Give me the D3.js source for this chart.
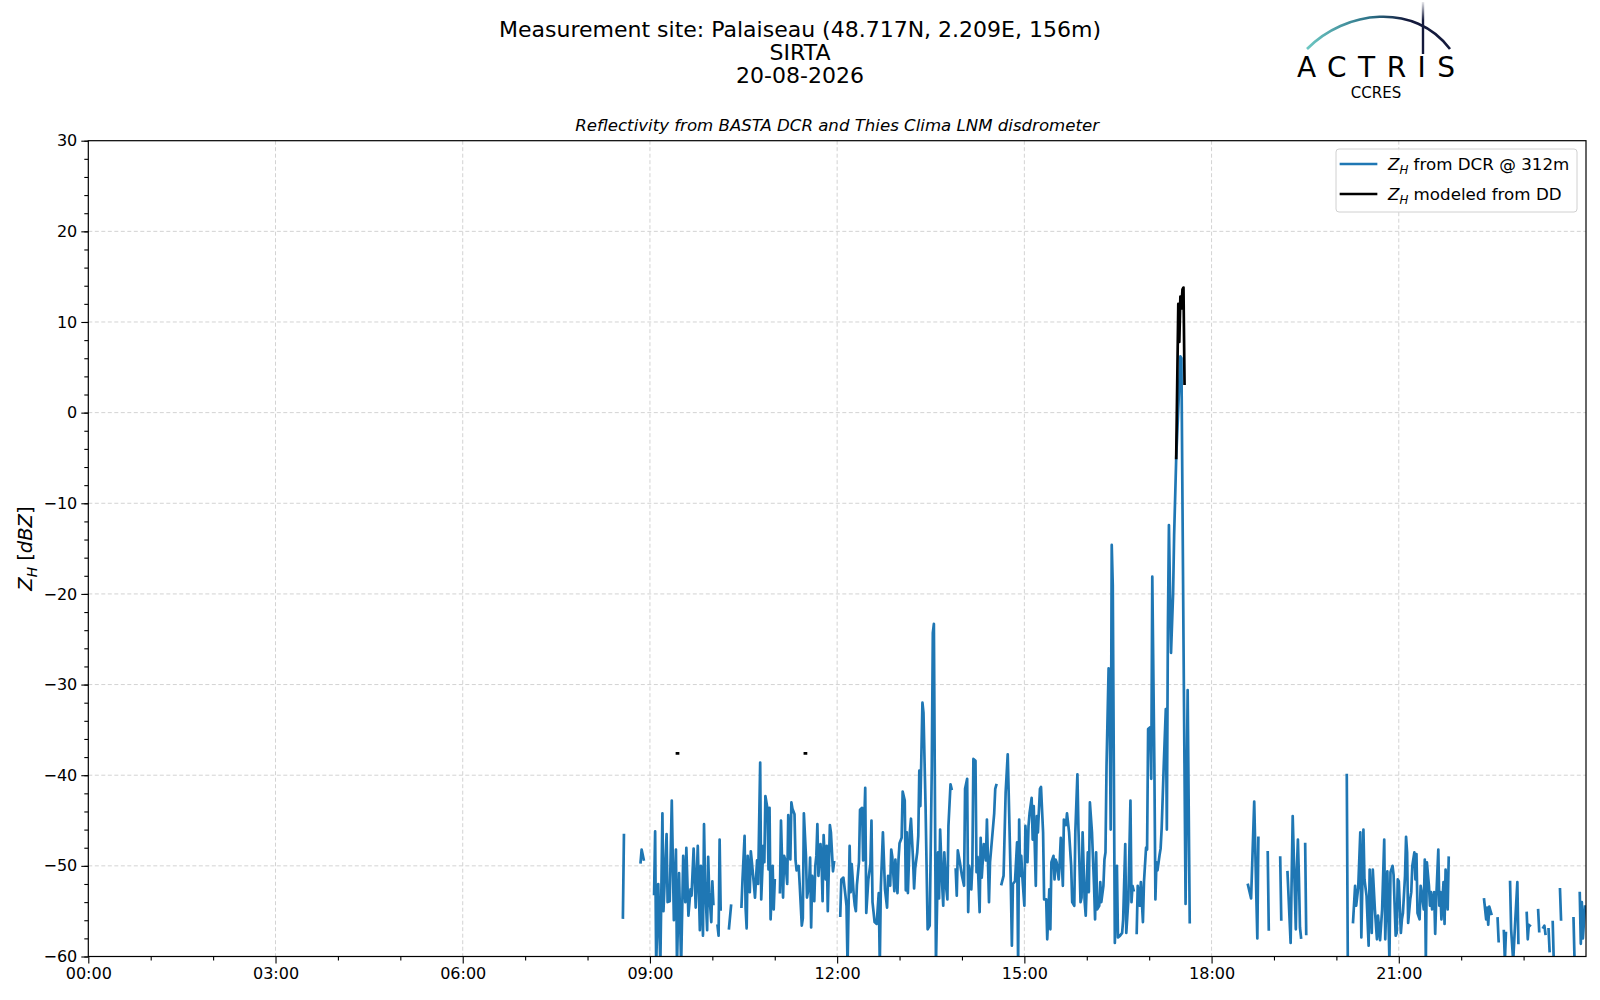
<!DOCTYPE html>
<html>
<head>
<meta charset="utf-8">
<script src="https://cdn.jsdelivr.net/npm/d3@7"></script>
<style>
body { margin: 0; background: #fff; }
svg text { font-family: "DejaVu Sans", sans-serif; fill: #000; }
</style>
</head>
<body>
<script>
// Reflectivity at 312 m from the BASTA cloud radar, [time, dBZ], null = gap
var dcrZh = [
  ["08:34",-55.7],["08:35",-46.6],["08:40",null],
  ["08:51",-49.6],["08:52",-48.2],["08:54",-49.3],["08:58",null],
  ["09:04",-53.1],["09:05",-46.2],["09:06",-61],["09:08",-52.0],["09:10",-61],["09:12",-44.2],["09:13",-55.0],["09:16",-46.5],["09:17",-54.0],["09:19",-53.9],["09:21",-42.8],["09:23",-56.0],["09:25",-48.2],["09:26",-61],["09:28",-50.8],["09:30",-61],["09:32",-48.9],["09:34",-54.0],["09:35",-48.0],["09:37",-55.5],["09:39",-52.6],["09:40",-53.3],["09:42",-48.1],["09:44",-54.6],["09:46",-47.8],["09:48",-57.1],["09:49",-50.0],["09:51",-57.7],["09:52",-45.4],["09:53",-51.8],["09:55",-57.1],["09:56",-49.0],["09:57",-52.9],["09:59",-56.2],["10:00",-51.7],["10:01",-54.2],["10:03",null],
  ["10:05",-56.6],["10:06",-57.7],["10:07",-47.1],["10:08",-54.8],["10:10",null],
  ["10:16",-56.9],["10:18",-54.4],["10:20",null],
  ["10:28",-54.5],["10:29",-51.5],["10:31",-46.7],["10:32",-54.7],["10:33",-56.9],["10:34",-48.9],["10:36",-52.9],["10:37",-48.4],["10:38",-49.6],["10:40",-52.1],["10:41",-53.5],["10:43",-49.4],["10:44",-52.0],["10:46",-38.6],["10:47",-53.7],["10:49",-47.8],["10:50",-49.6],["10:51",-42.3],["10:53",-43.7],["10:54",-50.4],["10:55",-43.6],["10:56",-55.9],["10:58",-50.0],["10:59",-54.8],["11:00",-51.6],["11:02",null],
  ["11:05",-52.9],["11:06",-45.0],["11:08",-53.5],["11:09",-48.9],["11:10",-49.3],["11:12",-52.0],["11:13",-44.4],["11:15",-49.3],["11:16",-43.0],["11:17",-43.7],["11:19",-44.3],["11:20",-49.4],["11:21",-50.5],["11:23",-50.0],["11:24",-52.1],["11:26",-56.6],["11:27",-55.8],["11:28",-44.2],["11:30",-48.9],["11:31",-53.5],["11:33",-52.1],["11:34",-49.1],["11:35",-56.8],["11:36",-51.1],["11:38",-53.9],["11:39",-50.0],["11:40",-48.9],["11:41",-45.4],["11:42",-51.1],["11:44",-47.6],["11:45",-49.6],["11:46",-53.9],["11:47",-46.6],["11:49",-51.5],["11:50",-47.8],["11:51",-55.0],["11:53",-45.5],["11:54",-46.3],["11:56",-50.6],["11:57",-49.6],["11:59",null],
  ["12:03",-55.5],["12:04",-51.5],["12:06",-51.3],["12:08",-53.3],["12:09",-54.4],["12:10",-61],["12:12",-47.8],["12:13",-52.9],["12:14",-49.8],["12:16",-53.3],["12:17",-54.4],["12:18",-55.0],["12:19",-52.1],["12:21",-49.6],["12:22",-43.8],["12:24",-43.6],["12:25",-49.4],["12:27",-41.4],["12:28",-55.2],["12:30",-51.5],["12:32",-49.8],["12:33",-45.0],["12:34",-54.0],["12:36",-56.2],["12:38",-56.4],["12:40",-53.0],["12:41",-61],["12:42",-52.4],["12:44",-46.3],["12:46",-52.6],["12:48",-54.6],["12:49",-51.1],["12:51",-52.2],["12:52",-48.2],["12:53",-49.0],["12:55",-52.8],["12:56",-49.3],["12:58",-53.0],["12:59",-49.3],
  ["13:00",-47.5],["13:02",-46.9],["13:03",-41.8],["13:05",-42.8],["13:06",-52.7],["13:07",-46.3],["13:08",-53.0],["13:10",-46.1],["13:11",-44.8],["13:13",-49.4],["13:14",-52.5],["13:15",-50.3],["13:17",-48.5],["13:18",-46.7],["13:19",-39.5],["13:20",-43.4],["13:22",-32.0],["13:23",-33.1],["13:25",-43.4],["13:27",-57.0],["13:29",-56.6],["13:31",-39.0],["13:32",-24.3],["13:33",-23.3],["13:35",-61],["13:37",-48.5],["13:38",-53.6],["13:39",-46.0],["13:41",-52.2],["13:42",-54.4],["13:43",-48.5],["13:45",-52.6],["13:46",-53.7],["13:47",-45.6],["13:49",-41.0],["13:50",-41.5],["13:52",null],
  ["13:54",-50.4],["13:55",-53.3],["13:56",-48.3],["13:58",-49.6],["14:00",-51.1],["14:02",-52.2],["14:03",-41.5],["14:05",-40.4],["14:06",-55.1],["14:07",-50.0],["14:09",-52.6],["14:10",-50.0],["14:11",-38.2],["14:13",-38.4],["14:14",-50.7],["14:15",-49.0],["14:17",-55.1],["14:18",-46.9],["14:19",-51.3],["14:21",-47.6],["14:22",-48.2],["14:23",-49.4],["14:24",-44.9],["14:26",-54.0],["14:27",-49.6],["14:29",-46.9],["14:31",-44.2],["14:32",-41.5],["14:33",-41.1],["14:35",null],
  ["14:38",-52.0],["14:40",-51.1],["14:42",-41.9],["14:44",-37.7],["14:45",-42.3],["14:47",-52.2],["14:48",-58.8],["14:49",-52.0],["14:51",-51.7],["14:53",-47.4],["14:54",-61],["14:55",-44.9],["14:56",-51.1],["14:57",-48.9],["14:58",-51.1],["15:00",-54.4],["15:01",-45.6],["15:03",-49.6],["15:04",-45.6],["15:05",-44.2],["15:07",-42.5],["15:08",-47.1],["15:09",-43.4],["15:11",-52.2],["15:12",-44.5],["15:13",-46.3],["15:15",-41.5],["15:16",-41.3],["15:18",-46.3],["15:19",-53.7],["15:21",-53.7],["15:22",-58.1],["15:24",-52.6],["15:25",-57.0],["15:26",-49.6],["15:28",-48.9],["15:29",-51.5],["15:30",-49.3],["15:31",-49.6],["15:33",-51.5],["15:34",-49.6],["15:35",-46.9],["15:37",-52.2],["15:38",-44.9],["15:40",-45.5],["15:41",-44.2],["15:43",-46.3],["15:45",-50.0],["15:46",-54.0],["15:48",-54.4],["15:49",-46.3],["15:51",-39.9],["15:52",-45.9],["15:54",-54.0],["15:55",-53.5],["15:56",-46.3],["15:58",-54.0],["15:59",-55.5],
  ["16:01",-48.5],["16:02",-52.9],["16:03",-43.0],["16:05",-46.3],["16:07",-52.2],["16:08",-55.9],["16:09",-48.5],["16:10",-54.8],["16:12",-54.4],["16:13",-51.8],["16:14",-54.0],["16:16",-52.2],["16:17",-49.3],["16:18",-48.5],["16:19",-39.0],["16:21",-28.2],["16:22",-32.6],["16:23",-46.0],["16:24",-14.6],["16:25",-19.0],["16:27",-58.5],["16:29",-50.0],["16:30",-57.9],["16:32",-57.7],["16:34",-57.4],["16:35",-55.9],["16:37",-47.6],["16:38",-57.4],["16:40",-53.7],["16:42",-42.8],["16:43",-54.0],["16:44",-52.2],["16:45",-52.7],["16:47",null],
  ["16:48",-57.4],["16:49",-52.2],["16:51",-54.4],["16:52",-51.8],["16:54",-56.2],["16:55",-51.8],["16:57",-48.0],["16:58",-48.2],["16:59",-34.9],["17:01",-34.7],["17:02",-40.4],["17:03",-18.1],["17:05",-39.0],["17:06",-53.7],["17:07",-49.6],["17:08",-50.5],["17:10",-48.8],["17:11",-48.1],["17:12",-45.9],["17:14",-39.0],["17:16",-32.7],["17:17",-46.0],["17:18",-23.9],["17:19",-12.4],["17:21",-26.5],["17:23",-20.0],["17:24",-13.5],["17:26",-5.0],["17:28",0.5],["17:30",6.2],["17:31",6.0],["17:33",-25.0],["17:35",-54.2],["17:37",-30.6],["17:39",-56.2],["17:41",null],
  ["18:35",-52.1],["18:38",-53.6],["18:41",-42.9],["18:43",-53.2],["18:44",-58.0],["18:45",-46.9],["18:47",null],
  ["18:54",-48.5],["18:55",-57.0],["18:57",null],
  ["19:06",-49.1],["19:07",-55.9],["19:09",null],
  ["19:13",-50.7],["19:16",-58.5],["19:18",-44.5],["19:21",-57.0],["19:22",-50.4],["19:23",-47.1],["19:24",-51.3],["19:25",-56.8],["19:26",-57.9],["19:28",null],
  ["19:30",-47.6],["19:31",-57.5],["19:33",null],
  ["20:10",-40.0],["20:11",-61],["20:13",null],
  ["20:16",-56.2],["20:18",-52.2],["20:19",-54.4],["20:21",-52.4],["20:23",-46.3],["20:24",-57.9],["20:26",-46.0],["20:27",-51.5],["20:29",-53.3],["20:31",-58.8],["20:32",-50.4],["20:34",-57.4],["20:35",-50.4],["20:37",-54.8],["20:39",-58.1],["20:40",-55.5],["20:42",-58.2],["20:44",-54.8],["20:46",-47.1],["20:47",-58.1],["20:49",-50.6],["20:51",-60.5],["20:52",-50.7],["20:54",-50.0],["20:55",-51.0],["20:57",-57.7],["20:58",-57.4],["20:59",-51.5],
  ["21:00",-51.7],["21:02",-57.4],["21:03",-55.9],["21:04",-55.2],["21:06",-51.1],["21:07",-46.8],["21:08",-48.5],["21:09",-56.3],["21:11",-53.7],["21:12",-52.9],["21:13",-50.0],["21:15",-48.5],["21:16",-51.5],["21:17",-48.7],["21:18",-55.2],["21:20",-55.9],["21:21",-52.2],["21:22",-52.9],["21:24",-54.8],["21:25",-49.3],["21:26",-60.5],["21:27",-49.6],["21:29",-52.2],["21:30",-54.4],["21:31",-52.9],["21:32",-54.8],["21:34",-52.9],["21:35",-57.5],["21:36",-53.7],["21:38",-48.2],["21:39",-54.4],["21:40",-52.9],["21:41",-55.9],["21:43",-51.8],["21:44",-56.4],["21:45",-50.4],["21:47",-54.8],["21:48",-49.1],["21:50",null],
  ["22:22",-53.7],["22:24",-55.9],["22:25",-54.6],["22:26",-56.5],["22:27",-54.5],["22:29",-55.3],["22:31",null],
  ["22:35",-55.8],["22:36",-58.3],["22:37",null],
  ["22:41",-57.2],["22:42",-60.5],["22:43",-57.4],["22:44",null],
  ["22:47",-51.8],["22:48",-57.0],["22:50",-60.5],["22:52",-56.0],["22:54",-51.8],["22:55",-58.5],["22:57",null],
  ["23:03",-55.2],["23:04",-58.1],["23:05",-56.5],["23:06",-56.6],["23:07",null],
  ["23:14",-54.9],["23:15",-57.2],["23:16",null],
  ["23:19",-56.8],["23:20",-56.6],["23:21",-57.5],["23:22",null],
  ["23:24",-57.0],["23:25",-59.4],["23:27",null],
  ["23:28",-56.2],["23:29",-60.5],["23:30",null],
  ["23:35",-52.6],["23:36",-55.9],["23:37",null],
  ["23:48",-55.8],["23:49",-60.5],["23:50",null],
  ["23:54",-53.0],["23:55",-58.6],["23:56",-54.0],["23:57",-58.0],["23:59",-54.5]
];

// Reflectivity modeled from the disdrometer drop size distribution
var ddZh = [
  ["09:26",-37.6],["09:27",-37.6],["09:28",null],
  ["11:29",-37.6],["11:30",-37.6],["11:31",null],
  ["17:26",-5.0],["17:28",12.0],["17:29",7.8],["17:30",12.8],["17:31",11.5],["17:32",13.6],["17:33",13.8],["17:34",3.2]
];

var hourTicks = ["00:00","03:00","06:00","09:00","12:00","15:00","18:00","21:00"];
var zTicks = [-60, -50, -40, -30, -20, -10, 0, 10, 20, 30];
var titleLines = ["Measurement site: Palaiseau (48.717N, 2.209E, 156m)", "SIRTA", "20-08-2026"];
var day = "2026-08-20";

var margin = { top: 140.7, left: 88.3 };
var width = 1497.7;
var height = 815.8;

var svg = d3.select("body").append("svg")
    .attr("width", 1600)
    .attr("height", 1000);

var parseTime = d3.timeParse("%Y-%m-%d %H:%M");
function t(s) { return parseTime(day + " " + s); }

var t0 = t("00:00");
var x = d3.scaleTime().domain([t0, d3.timeDay.offset(t0, 1)]).range([0, width]);
var y = d3.scaleLinear().domain([-60, 30]).range([height, 0]);

var defs = svg.append("defs");
defs.append("clipPath").attr("id", "plotclip")
    .append("rect").attr("width", width).attr("height", height);

var g = svg.append("g")
    .attr("transform", "translate(" + margin.left + "," + margin.top + ")");

// grid
g.append("g").selectAll("line")
    .data(hourTicks.slice(1))
    .enter().append("line")
    .attr("x1", function (d) { return x(t(d)); })
    .attr("x2", function (d) { return x(t(d)); })
    .attr("y1", 0).attr("y2", height)
    .attr("stroke", "#d3d3d3").attr("stroke-width", 1).attr("stroke-dasharray", "4,2.5");

g.append("g").selectAll("line")
    .data(zTicks.slice(1, -1))
    .enter().append("line")
    .attr("x1", 0).attr("x2", width)
    .attr("y1", function (d) { return y(d); })
    .attr("y2", function (d) { return y(d); })
    .attr("stroke", "#d3d3d3").attr("stroke-width", 1).attr("stroke-dasharray", "4,2.5");

// lines
var zline = d3.line()
    .defined(function (d) { return d[1] !== null; })
    .x(function (d) { return x(t(d[0])); })
    .y(function (d) { return y(d[1]); });

var plot = g.append("g").attr("clip-path", "url(#plotclip)");

plot.append("path")
    .datum(dcrZh)
    .attr("d", zline)
    .attr("fill", "none")
    .attr("stroke", "#1f77b4")
    .attr("stroke-width", 2.7)
    .attr("stroke-linecap", "square")
    .attr("stroke-linejoin", "round");

plot.append("path")
    .datum(ddZh)
    .attr("d", zline)
    .attr("fill", "none")
    .attr("stroke", "#000")
    .attr("stroke-width", 2.7)
    .attr("stroke-linecap", "square")
    .attr("stroke-linejoin", "round");

// axes
var minorHours = d3.timeHour.range(t0, d3.timeDay.offset(t0, 1))
    .filter(function (d) { return d.getHours() % 3 !== 0; });

var xAxis = d3.axisBottom(x)
    .tickValues(hourTicks.map(t))
    .tickFormat(d3.timeFormat("%H:%M"))
    .tickSizeInner(7).tickSizeOuter(0).tickPadding(4);

var xMinor = d3.axisBottom(x).tickValues(minorHours).tickSize(4).tickFormat("");

var yAxis = d3.axisLeft(y).tickValues(zTicks).tickSizeInner(7).tickSizeOuter(0).tickPadding(4);
var yMinor = d3.axisLeft(y).tickValues(y.ticks(45)).tickSize(4).tickFormat("");

g.append("g").attr("class", "axis").attr("transform", "translate(0," + height + ")").call(xAxis);
g.append("g").attr("class", "axis").attr("transform", "translate(0," + height + ")").call(xMinor);
g.append("g").attr("class", "axis").call(yAxis);
g.append("g").attr("class", "axis").call(yMinor);

g.selectAll(".axis .domain").remove();
g.selectAll(".axis line").attr("stroke", "#000").attr("stroke-width", 1.1);
g.selectAll(".axis text")
    .attr("font-family", "DejaVu Sans")
    .attr("font-size", 16)
    .attr("fill", "#000");

// spines
g.append("rect")
    .attr("width", width).attr("height", height)
    .attr("fill", "none").attr("stroke", "#000").attr("stroke-width", 1.2);

// y label
var ylab = svg.append("text")
    .attr("transform", "translate(32," + (margin.top + height / 2) + ") rotate(-90)")
    .attr("text-anchor", "middle")
    .attr("font-size", 19.5);
ylab.append("tspan").attr("font-style", "italic").text("Z");
ylab.append("tspan").attr("font-style", "italic").attr("font-size", 13.7).attr("dy", 4.5).text("H");
ylab.append("tspan").attr("dy", -4.5).text(" [");
ylab.append("tspan").attr("font-style", "italic").text("dBZ");
ylab.append("tspan").text("]");

// axes title
svg.append("text")
    .attr("x", margin.left + width / 2)
    .attr("y", 131)
    .attr("text-anchor", "middle")
    .attr("font-size", 16.6)
    .attr("font-style", "italic")
    .text("Reflectivity from BASTA DCR and Thies Clima LNM disdrometer");

// figure title
svg.append("g").selectAll("text")
    .data(titleLines)
    .enter().append("text")
    .attr("x", 800)
    .attr("y", function (d, i) { return 36.5 + i * 23; })
    .attr("text-anchor", "middle")
    .attr("font-size", 22)
    .text(function (d) { return d; });

// legend
var legend = svg.append("g");
legend.append("rect")
    .attr("x", 1336).attr("y", 149).attr("width", 241).attr("height", 63).attr("rx", 3)
    .attr("fill", "#fff").attr("fill-opacity", 0.8)
    .attr("stroke", "#d0d0d0").attr("stroke-width", 1);

var legendItems = [
    { color: "#1f77b4", label: " from DCR @ 312m" },
    { color: "#000", label: " modeled from DD" }
];
legendItems.forEach(function (d, i) {
    var ly = 164 + i * 30;
    legend.append("line")
        .attr("x1", 1341).attr("x2", 1376).attr("y1", ly).attr("y2", ly)
        .attr("stroke", d.color).attr("stroke-width", 2.7).attr("stroke-linecap", "square");
    var tx = legend.append("text").attr("x", 1388).attr("y", ly + 6).attr("font-size", 16.7);
    tx.append("tspan").attr("font-style", "italic").text("Z");
    tx.append("tspan").attr("font-style", "italic").attr("font-size", 11.8).attr("dy", 4).text("H");
    tx.append("tspan").attr("dy", -4).text(d.label);
});

// ACTRIS logo
var grad = defs.append("linearGradient").attr("id", "arcgrad")
    .attr("gradientUnits", "userSpaceOnUse")
    .attr("x1", 1307).attr("y1", 0).attr("x2", 1450).attr("y2", 0);
grad.append("stop").attr("offset", "0%").attr("stop-color", "#6cc7c2");
grad.append("stop").attr("offset", "45%").attr("stop-color", "#2b6f86");
grad.append("stop").attr("offset", "70%").attr("stop-color", "#141a3c");
grad.append("stop").attr("offset", "100%").attr("stop-color", "#141a3c");

var vgrad = defs.append("linearGradient").attr("id", "vgrad")
    .attr("gradientUnits", "userSpaceOnUse")
    .attr("x1", 0).attr("y1", 2).attr("x2", 0).attr("y2", 54);
vgrad.append("stop").attr("offset", "0%").attr("stop-color", "#141a3c").attr("stop-opacity", 0.1);
vgrad.append("stop").attr("offset", "35%").attr("stop-color", "#141a3c").attr("stop-opacity", 1);

var logo = svg.append("g");
logo.append("path")
    .attr("d", "M1307,49 C1345,10 1415,2 1450,49")
    .attr("fill", "none").attr("stroke", "url(#arcgrad)").attr("stroke-width", 2.6);
logo.append("line")
    .attr("x1", 1423).attr("x2", 1423).attr("y1", 2).attr("y2", 54)
    .attr("stroke", "url(#vgrad)").attr("stroke-width", 2.4);
logo.append("text")
    .attr("x", 1297).attr("y", 77)
    .attr("font-family", "Lato")
    .attr("font-size", 28)
    .attr("textLength", 158).attr("lengthAdjust", "spacing")
    .attr("fill", "#141a3c")
    .text("ACTRIS");
logo.append("text")
    .attr("x", 1376).attr("y", 98)
    .attr("text-anchor", "middle")
    .attr("font-family", "Open Sans")
    .attr("font-size", 15)
    .attr("fill", "#141a3c")
    .text("CCRES");
</script>
</body>
</html>
